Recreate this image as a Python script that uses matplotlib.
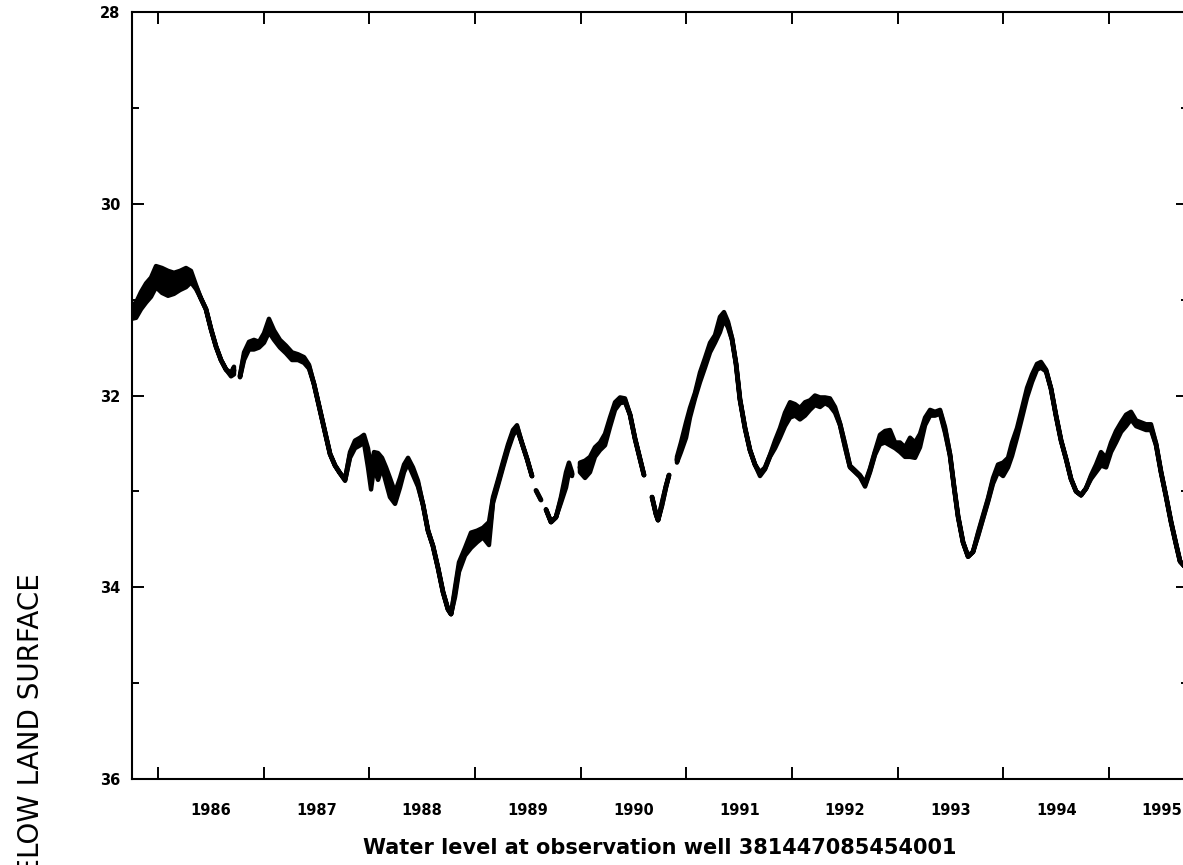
import matplotlib.pyplot as plt
import numpy as np

# Daily water level, sampled along the record (decimal year, feet below land surface).
# spread = half of the day-to-day fluctuation band; NaN rows mark missing record.
years = [
    1985.75, 1985.792, 1985.839, 1985.887, 1985.934, 1985.981, 1986.038, 1986.095,
    1986.151, 1986.208, 1986.265, 1986.312, 1986.360, 1986.407, 1986.454, 1986.502,
    1986.549, 1986.596, 1986.644, 1986.691, 1986.719, 1986.745,
    1986.776, 1986.814, 1986.861, 1986.908, 1986.956, 1987.003, 1987.050, 1987.098,
    1987.154, 1987.211, 1987.268, 1987.325, 1987.382, 1987.429, 1987.476, 1987.524,
    1987.580, 1987.628, 1987.675, 1987.722, 1987.770, 1987.817, 1987.864, 1987.912,
    1987.949, 1987.987, 1988.016, 1988.044, 1988.082, 1988.120, 1988.158, 1988.195,
    1988.243, 1988.290, 1988.328, 1988.366, 1988.413, 1988.460, 1988.508, 1988.555,
    1988.602, 1988.650, 1988.697, 1988.744, 1988.773, 1988.811, 1988.848, 1988.905,
    1988.962, 1989.019, 1989.075, 1989.132, 1989.170, 1989.217, 1989.265, 1989.312,
    1989.359, 1989.397, 1989.445, 1989.492, 1989.539, 1989.558,
    1989.577, 1989.624, 1989.648,
    1989.672, 1989.719, 1989.766, 1989.813, 1989.861, 1989.889, 1989.918, 1989.955,
    1989.993, 1990.041, 1990.088, 1990.135, 1990.183, 1990.230, 1990.277, 1990.325,
    1990.372, 1990.419, 1990.467, 1990.514, 1990.561, 1990.599, 1990.637,
    1990.675, 1990.713, 1990.732, 1990.770, 1990.807, 1990.836, 1990.873,
    1990.911, 1990.949, 1990.997, 1991.034, 1991.082, 1991.129, 1991.176, 1991.224,
    1991.271, 1991.318, 1991.356, 1991.394, 1991.432, 1991.470, 1991.507, 1991.555,
    1991.602, 1991.649, 1991.697, 1991.744, 1991.791, 1991.839, 1991.886, 1991.933,
    1991.981, 1992.028, 1992.075, 1992.123, 1992.170, 1992.217, 1992.265, 1992.312,
    1992.359, 1992.407, 1992.454, 1992.501, 1992.548, 1992.596, 1992.643, 1992.691,
    1992.738, 1992.785, 1992.832, 1992.880, 1992.927, 1992.975, 1993.022, 1993.069,
    1993.117, 1993.164, 1993.211, 1993.259, 1993.306, 1993.353, 1993.401, 1993.448,
    1993.495, 1993.533, 1993.571, 1993.618, 1993.666, 1993.713, 1993.760, 1993.807,
    1993.855, 1993.902, 1993.949, 1993.997, 1994.044, 1994.082, 1994.129, 1994.177,
    1994.224, 1994.271, 1994.318, 1994.356, 1994.404, 1994.451, 1994.498, 1994.546,
    1994.593, 1994.640, 1994.688, 1994.735, 1994.782, 1994.830, 1994.877, 1994.924,
    1994.972, 1995.019, 1995.066, 1995.114, 1995.161, 1995.208, 1995.256, 1995.303,
    1995.350, 1995.397, 1995.445, 1995.492, 1995.539, 1995.587, 1995.634, 1995.672,
    1995.729,
]
nan = np.nan
depth = [
    31.13, 31.11, 31.01, 30.93, 30.87, 30.76, 30.80, 30.83,
    30.83, 30.80, 30.77, 30.76, 30.87, 30.99, 31.10, 31.31,
    31.49, 31.63, 31.73, 31.78, 31.74, nan,
    31.80, 31.59, 31.48, 31.47, 31.47, 31.40, 31.27, 31.37,
    31.46, 31.52, 31.59, 31.60, 31.63, 31.70, 31.88, 32.11,
    32.38, 32.61, 32.73, 32.81, 32.88, 32.62, 32.51, 32.48,
    32.45, 32.65, 32.87, 32.67, 32.74, 32.70, 32.83, 32.96,
    33.07, 32.91, 32.76, 32.68, 32.79, 32.92, 33.14, 33.41,
    33.57, 33.80, 34.05, 34.23, 34.28, 34.05, 33.79, 33.63,
    33.51, 33.47, 33.43, 33.44, 33.09, 32.91, 32.72, 32.54,
    32.39, 32.33, 32.50, 32.66, 32.84, nan,
    32.99, 33.09, nan,
    33.19, 33.32, 33.27, 33.09, 32.88, 32.75, 32.82, nan,
    32.75, 32.77, 32.72, 32.59, 32.53, 32.46, 32.28, 32.11,
    32.05, 32.05, 32.20, 32.45, 32.66, 32.83, nan,
    33.06, 33.24, 33.30, 33.13, 32.95, 32.83, nan,
    32.67, 32.54, 32.36, 32.18, 32.00, 31.81, 31.66, 31.50,
    31.41, 31.26, 31.17, 31.26, 31.41, 31.67, 32.04, 32.34,
    32.57, 32.72, 32.82, 32.76, 32.63, 32.51, 32.39, 32.25,
    32.15, 32.15, 32.19, 32.14, 32.10, 32.05, 32.07, 32.05,
    32.07, 32.15, 32.30, 32.52, 32.74, 32.79, 32.84, 32.93,
    32.78, 32.60, 32.46, 32.43, 32.44, 32.52, 32.54, 32.59,
    32.54, 32.57, 32.47, 32.27, 32.18, 32.19, 32.17, 32.36,
    32.62, 32.95, 33.26, 33.53, 33.68, 33.63, 33.45, 33.27,
    33.09, 32.89, 32.76, 32.77, 32.70, 32.56, 32.39, 32.18,
    31.97, 31.82, 31.70, 31.68, 31.74, 31.93, 32.21, 32.47,
    32.66, 32.87, 33.00, 33.04, 32.97, 32.85, 32.76, 32.66,
    32.70, 32.54, 32.43, 32.33, 32.26, 32.21, 32.29, 32.31,
    32.33, 32.33, 32.51, 32.80, 33.05, 33.32, 33.55, 33.73,
    33.80,
]
spread = [
    0.07, 0.08, 0.09, 0.10, 0.10, 0.11, 0.13, 0.13,
    0.11, 0.10, 0.10, 0.06, 0.02, 0.0, 0.0, 0.0,
    0.0, 0.0, 0.0, 0.02, 0.04, nan,
    0.01, 0.04, 0.04, 0.05, 0.03, 0.05, 0.07, 0.05,
    0.04, 0.04, 0.04, 0.03, 0.03, 0.02, 0.0, 0.0,
    0.0, 0.0, 0.0, 0.0, 0.01, 0.03, 0.04, 0.04,
    0.04, 0.10, 0.11, 0.08, 0.14, 0.05, 0.08, 0.10,
    0.06, 0.05, 0.04, 0.03, 0.04, 0.03, 0.0, 0.0,
    0.0, 0.0, 0.0, 0.0, 0.0, 0.05, 0.05, 0.04,
    0.08, 0.06, 0.05, 0.12, 0.03, 0.03, 0.03, 0.03,
    0.03, 0.02, 0.0, 0.0, 0.0, nan,
    0.0, 0.0, nan,
    0.0, 0.0, 0.0, 0.03, 0.08, 0.05, 0.02, nan,
    0.05, 0.09, 0.08, 0.05, 0.04, 0.06, 0.05, 0.04,
    0.03, 0.02, 0.0, 0.0, 0.0, 0.0, nan,
    0.0, 0.0, 0.0, 0.02, 0.01, 0.0, nan,
    0.03, 0.05, 0.08, 0.05, 0.03, 0.05, 0.05, 0.05,
    0.04, 0.08, 0.04, 0.03, 0.01, 0.0, 0.0, 0.0,
    0.0, 0.0, 0.02, 0.01, 0.01, 0.04, 0.05, 0.07,
    0.08, 0.06, 0.06, 0.07, 0.05, 0.05, 0.05, 0.03,
    0.04, 0.03, 0.01, 0.02, 0.01, 0.01, 0.01, 0.02,
    0.02, 0.02, 0.05, 0.06, 0.08, 0.03, 0.05, 0.05,
    0.10, 0.08, 0.07, 0.04, 0.03, 0.02, 0.02, 0.03,
    0.01, 0.0, 0.0, 0.0, 0.0, 0.0, 0.02, 0.02,
    0.02, 0.03, 0.04, 0.07, 0.05, 0.07, 0.05, 0.05,
    0.05, 0.04, 0.03, 0.03, 0.01, 0.0, 0.0, 0.0,
    0.0, 0.0, 0.0, 0.0, 0.0, 0.02, 0.04, 0.07,
    0.05, 0.05, 0.06, 0.05, 0.06, 0.04, 0.03, 0.03,
    0.03, 0.03, 0.01, 0.0, 0.0, 0.0, 0.0, 0.0,
    0.0,
]

year_ticks = list(range(1986, 1996))
year_labels = [str(y) for y in year_ticks]

plt.rcParams['font.family'] = 'DejaVu Sans'
plt.rcParams['font.weight'] = 'bold'

yrs = np.array(years)
lvl = np.array(depth)
band = np.array(spread)

fig = plt.figure(figsize=(11.83, 8.65), dpi=100)
ax = fig.add_axes([131.6 / 1183, 86 / 865, 1056.7 / 1183, 767 / 865])

ax.fill_between(yrs, lvl - band, lvl + band, facecolor='black', edgecolor='black',
                linewidth=3.2, joinstyle='round')
ax.plot(yrs, lvl, color='black', linewidth=3.5,
        solid_joinstyle='round', solid_capstyle='round')

ax.set_xlim(1985.75, 1995.75)
ax.set_ylim(36, 28)

# year boundaries get the ticks, labels sit mid-year
ax.set_xticks(year_ticks)
ax.set_xticklabels([])
ax.set_xticks([y + 0.5 for y in year_ticks], minor=True)
ax.set_xticklabels(year_labels, minor=True)
ax.set_yticks([28, 30, 32, 34, 36])
ax.set_yticks([29, 31, 33, 35], minor=True)

ax.tick_params(axis='x', which='major', direction='in', length=8.6, width=1.4,
               top=True, bottom=True)
ax.tick_params(axis='x', which='minor', length=0, pad=17, labelsize=10.5)
ax.tick_params(axis='y', which='both', direction='in', left=True, right=True,
               width=1.4, pad=8, labelsize=10.5)
ax.tick_params(axis='y', which='major', length=8.6)
ax.tick_params(axis='y', which='minor', length=5)
for side in ax.spines.values():
    side.set_linewidth(1.5)

fig.text(0.5575, 0.0197, 'Water level at observation well 381447085454001',
         ha='center', va='center', fontsize=15, fontweight='bold')
# the axis title runs on past the bottom edge of the sheet
fig.text(0.0262, 0.3376, 'DEPTH TO WATER LEVEL, IN FEET BELOW LAND SURFACE',
         rotation=90, rotation_mode='anchor', ha='right', va='center',
         fontsize=20, fontweight='normal')

fig.savefig('out.png', dpi=100)
